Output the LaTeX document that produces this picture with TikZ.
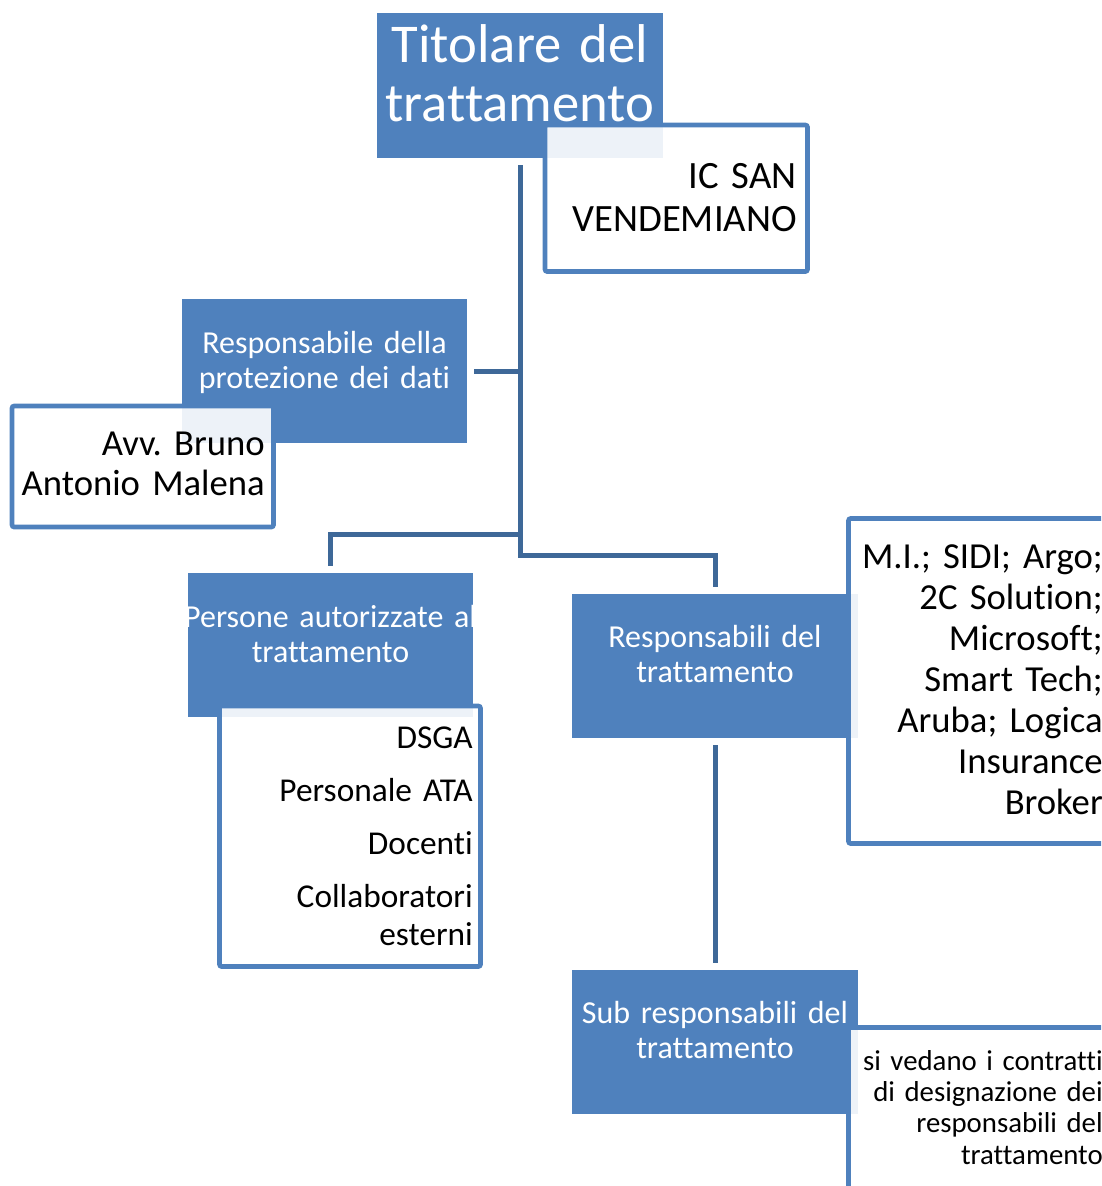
\documentclass[tikz,border=0pt]{standalone}
\usepackage{fontspec}
\setmainfont[Ligatures={NoCommon}]{Carlito}
\usetikzlibrary{fit}
\frenchspacing

\begin{document}
\begin{tikzpicture}[x=0.75pt, y=-0.75pt,
  ruolo/.style={fill=bluruolo, inner sep=0pt},
  elenco/.style={draw=bluruolo, line width=3.4pt, fill=white, fill opacity=0.9, rounded corners=1.5pt, inner sep=0pt},
  connettore/.style={draw=blulink, line width=3.75pt, line join=miter, shorten <=5.25pt, shorten >=5.25pt},
  titolo/.style={text=white, align=center, text width=240pt, inner sep=0pt, anchor=base},
  voce/.style={text=black, align=right, text width=260pt, inner sep=0pt, anchor=base east}]

%─────────────
% Controls
%─────────────
\definecolor{bluruolo}{RGB}{79,129,189}  % fill of the role boxes
\definecolor{blulink}{RGB}{62,104,152}   % darker blue of the connectors
\def\gapvoce{11.25pt}                    % extra space between list items

\useasboundingbox (0,0) rectangle (1101,1186);
\clip (0,0) rectangle (1101,1186);

%─────────────
% Role boxes (blue)
%─────────────
\node[ruolo, fit={(377,13) (663,158)}] (titolare) {};
\node[ruolo, fit={(182,299) (467,443)}] (dpo) {};
\node[ruolo, fit={(188,573) (473,717)}] (persone) {};
\node[ruolo, fit={(572,594) (858,738)}] (resp) {};
\node[ruolo, fit={(572,970) (858,1114)}] (sub) {};

%─────────────
% Name boxes (white, slightly see-through)
%─────────────
\node[elenco, fit={(545,125) (807.5,271.5)}] (sede) {};
\node[elenco, fit={(12,406) (273.5,527)}] (dpo-nome) {};
\node[elenco, fit={(219.5,706) (480.5,966.5)}] (persone-elenco) {};
\node[elenco, fit={(848.5,518.5) (1120,843.5)}] (resp-elenco) {};
\node[elenco, fit={(848.5,1027.5) (1120,1200)}] (sub-elenco) {};

%─────────────
% Connectors
%─────────────
\coordinate (snodo) at (520,555.5);
\coordinate (ramo) at (520,534.5);
\draw[connettore] (titolare.south) -- (snodo) -| (resp.north);
\draw[connettore, shorten <=0pt] (ramo) -| (persone.north);
\draw[connettore, shorten >=0pt] (dpo.east) -- (dpo.east -| snodo);
\draw[connettore] (resp.south) -- (sub.north);

%─────────────
% Texts
%─────────────
\node[titolo, font=\fontsize{41}{44.25}\selectfont] (titolare-testo) at (520,62.7) {Titolare del\\trattamento};
\node[titolo, font=\fontsize{24}{26.25}\selectfont] (dpo-testo) at (324.5,353) {Responsabile della\\protezione dei dati};
\node[titolo, font=\fontsize{24}{26.25}\selectfont] (persone-testo) at (330.5,627) {Persone autorizzate al\\trattamento};
\node[titolo, font=\fontsize{24}{26.25}\selectfont] (resp-testo) at (715,647) {Responsabili del\\trattamento};
\node[titolo, font=\fontsize{24}{26.25}\selectfont] (sub-testo) at (715,1023) {Sub responsabili del\\trattamento};

\node[voce, font=\fontsize{29}{32.8}\selectfont] (sede-testo) at (797,188) {IC SAN\\VENDEMIANO};
\node[voce, font=\fontsize{27.5}{30.2}\selectfont] (dpo-nome-testo) at (265,455.7) {Avv. Bruno\\Antonio Malena};
\node[voce, font=\fontsize{25}{28.5}\selectfont] (persone-elenco-testo) at (473,748)
  {DSGA\\[\gapvoce]Personale ATA\\[\gapvoce]Docenti\\[\gapvoce]Collaboratori\\esterni};
\node[voce, font=\fontsize{27.5}{30.75}\selectfont] (resp-elenco-testo) at (1103,568)
  {M.I.; SIDI; Argo;\\2C Solution;\\Microsoft;\\Smart Tech;\\Aruba; Logica\\Insurance\\Broker};
\node[voce, font=\fontsize{21.6}{23.5}\selectfont] (sub-elenco-testo) at (1103,1070)
  {si vedano i contratti\\di designazione dei\\responsabili del\\trattamento};

\end{tikzpicture}
\end{document}
